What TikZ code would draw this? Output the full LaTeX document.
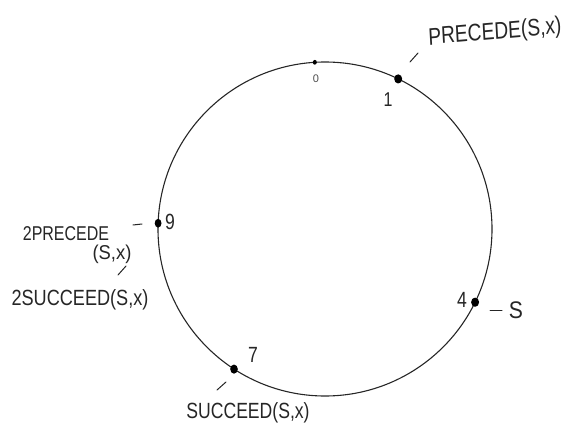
\documentclass[tikz,border=0pt]{standalone}
\usepackage{fontspec}
\setmainfont{Liberation Sans}
\begin{document}
\begin{tikzpicture}[x=1pt,y=-1pt,
  ink/.style={draw=black!85, line width=1.1pt},
  tickmark/.style={draw=black!85, line width=1pt, line cap=round},
  dotmark/.style={fill=black},
  hand/.style={text=black!85, inner sep=0pt, font=\fontsize{22}{22}\selectfont, xscale=0.8},
  small/.style={text=black!70, inner sep=0pt, font=\fontsize{11}{11}\selectfont},
]
\useasboundingbox (0,0) rectangle (568,428);
\coordinate (c) at (325,229);
\draw[ink] (c) circle[radius=167pt];
% points on the circle
\coordinate (p0) at (314.8,62.3);
\coordinate (p1) at (398.2,78.9);
\coordinate (p4) at (475.1,302.2);
\coordinate (p7) at (234.0,369.1);
\coordinate (p9) at (158.1,223.2);
\fill[dotmark] (p0) ellipse[x radius=2pt, y radius=2.4pt];
\fill[dotmark] (p1) ellipse[x radius=4pt, y radius=4.6pt];
\fill[dotmark] (p4) ellipse[x radius=4pt, y radius=4.6pt];
\fill[dotmark] (p7) ellipse[x radius=3.8pt, y radius=4.6pt];
\fill[dotmark] (p9) ellipse[x radius=3.4pt, y radius=4.4pt];
% number labels
\node[small] (l0) at (316,79) {0};
\node[hand, font=\fontsize{20}{20}\selectfont] (l1) at (388,100) {1};
\node[hand] (l4) at (462,300) {4};
\node[hand] (l7) at (253,355) {7};
\node[hand] (l9) at (170,222) {9};
% text labels
\node[hand, font=\fontsize{24}{24}\selectfont, rotate=4] (t1) at (495,33) {PRECEDE(S,x)};
\coordinate (t1a) at (410,62);
\coordinate (t1b) at (418,53);
\draw[tickmark] (t1a) -- (t1b);

\node[hand, font=\fontsize{24}{24}\selectfont, xscale=1.1] (t4) at (516,310) {S};
\coordinate (t4a) at (490,310);
\coordinate (t4b) at (502,310);
\draw[tickmark] (t4a) -- (t4b);

\node[hand] (t7) at (248,413) {SUCCEED(S,x)};
\coordinate (t7a) at (217,390);
\coordinate (t7b) at (226,382);
\draw[tickmark] (t7a) -- (t7b);

\node[hand, font=\fontsize{20}{20}\selectfont] (t9a) at (66,234) {2PRECEDE};
\node[hand, font=\fontsize{20}{20}\selectfont, xscale=1.15] (t9b) at (112,254) {(S,x)};
\node[hand, xscale=1.03] (t9c) at (80,300) {2SUCCEED(S,x)};
\coordinate (d9a) at (133,225);
\coordinate (d9b) at (142,224);
\draw[tickmark] (d9a) -- (d9b);
\coordinate (s9a) at (118,275);
\coordinate (s9b) at (126,266);
\draw[tickmark] (s9a) -- (s9b);
\end{tikzpicture}
\end{document}
